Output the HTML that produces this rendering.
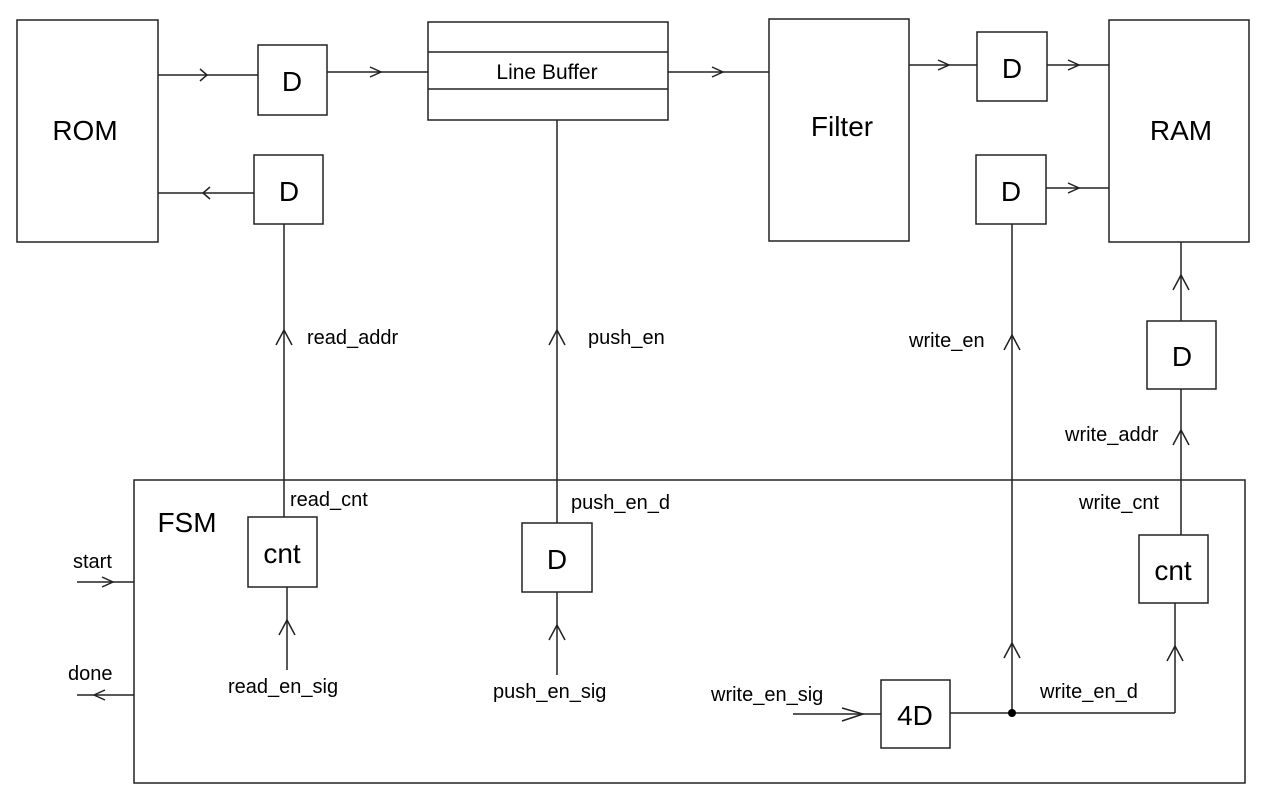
<!DOCTYPE html>
<html><head><meta charset="utf-8"><style>body{margin:0;background:#fff}svg{display:block}text{font-family:"Liberation Sans",sans-serif;fill:#000}</style></head><body>
<svg width="1272" height="810" viewBox="0 0 1272 810" xmlns="http://www.w3.org/2000/svg">
<g fill="none" stroke="#222" stroke-width="1.5">
<rect x="17" y="20" width="141" height="222"/>
<rect x="258" y="45" width="69" height="70"/>
<rect x="254" y="155" width="69" height="69"/>
<rect x="428" y="22" width="240" height="98"/>
<line x1="428" y1="52" x2="668" y2="52"/><line x1="428" y1="89" x2="668" y2="89"/>
<rect x="769" y="19" width="140" height="222"/>
<rect x="977" y="32" width="70" height="69"/>
<rect x="976" y="155" width="70" height="69"/>
<rect x="1109" y="20" width="140" height="222"/>
<rect x="1147" y="321" width="69" height="68"/>
<rect x="134" y="480" width="1111" height="303"/>
<rect x="248" y="517" width="69" height="70"/>
<rect x="522" y="523" width="70" height="69"/>
<rect x="881" y="680" width="69" height="68"/>
<rect x="1139" y="535" width="69" height="68"/>
<line x1="158" y1="75" x2="258" y2="75"/><polyline points="200,69 207,75 200,81"/>
<line x1="327" y1="72" x2="428" y2="72"/><polyline points="370,67 381,72 370,77"/>
<line x1="158" y1="193" x2="254" y2="193"/><polyline points="210,187 203,193 210,199"/>
<line x1="668" y1="72" x2="769" y2="72"/><polyline points="712,67 723,72 712,77"/>
<line x1="909" y1="65" x2="977" y2="65"/><polyline points="938,60 949,65 938,70"/>
<line x1="1047" y1="65" x2="1109" y2="65"/><polyline points="1068,60 1079,65 1068,70"/>
<line x1="1046" y1="188" x2="1109" y2="188"/><polyline points="1068,183 1079,188 1068,193"/>
<line x1="284" y1="224" x2="284" y2="517"/><polyline points="276,345 284,330 292,345"/>
<line x1="557" y1="120" x2="557" y2="523"/><polyline points="549,345 557,330 565,345"/>
<line x1="1012" y1="224" x2="1012" y2="713"/><polyline points="1004,350 1012,335 1020,350"/><polyline points="1004,658 1012,643 1020,658"/>
<line x1="1181" y1="242" x2="1181" y2="321"/><polyline points="1173,290 1181,275 1189,290"/>
<line x1="1181" y1="389" x2="1181" y2="535"/><polyline points="1173,445 1181,430 1189,445"/>
<line x1="1175" y1="603" x2="1175" y2="713"/><polyline points="1167,661 1175,646 1183,661"/>
<line x1="950" y1="713" x2="1175" y2="713"/>
<line x1="793" y1="714" x2="881" y2="714"/><polyline points="842,708 863,714 842,721"/>
<line x1="287" y1="587" x2="287" y2="670"/><polyline points="279,635 287,620 295,635"/>
<line x1="557" y1="592" x2="557" y2="675"/><polyline points="549,640 557,625 565,640"/>
<line x1="77" y1="582" x2="134" y2="582"/><polyline points="102,577 113,582 102,587"/>
<line x1="77" y1="695" x2="134" y2="695"/><polyline points="105,690 94,695 105,700"/>
</g>
<circle cx="1012" cy="713" r="4" fill="#000"/>
<g font-size="28" text-anchor="middle">
<text x="85" y="140">ROM</text>
<text x="292" y="91">D</text><text x="289" y="201">D</text>
<text x="842" y="136">Filter</text>
<text x="1012" y="78">D</text><text x="1011" y="201">D</text>
<text x="1181" y="140">RAM</text>
<text x="1182" y="366">D</text>
<text x="282" y="563">cnt</text>
<text x="557" y="569">D</text>
<text x="915" y="725">4D</text>
<text x="1173" y="580">cnt</text>
<text x="187" y="532">FSM</text>
</g>
<text x="547" y="79" font-size="21" text-anchor="middle">Line Buffer</text>
<g font-size="20">
<text x="307" y="344">read_addr</text>
<text x="290" y="506">read_cnt</text>
<text x="588" y="344">push_en</text>
<text x="571" y="509">push_en_d</text>
<text x="909" y="347">write_en</text>
<text x="1065" y="441">write_addr</text>
<text x="1079" y="509">write_cnt</text>
<text x="73" y="568">start</text>
<text x="68" y="680">done</text>
<text x="228" y="693">read_en_sig</text>
<text x="493" y="698">push_en_sig</text>
<text x="711" y="701">write_en_sig</text>
<text x="1040" y="698">write_en_d</text>
</g>
</svg>
</body></html>
